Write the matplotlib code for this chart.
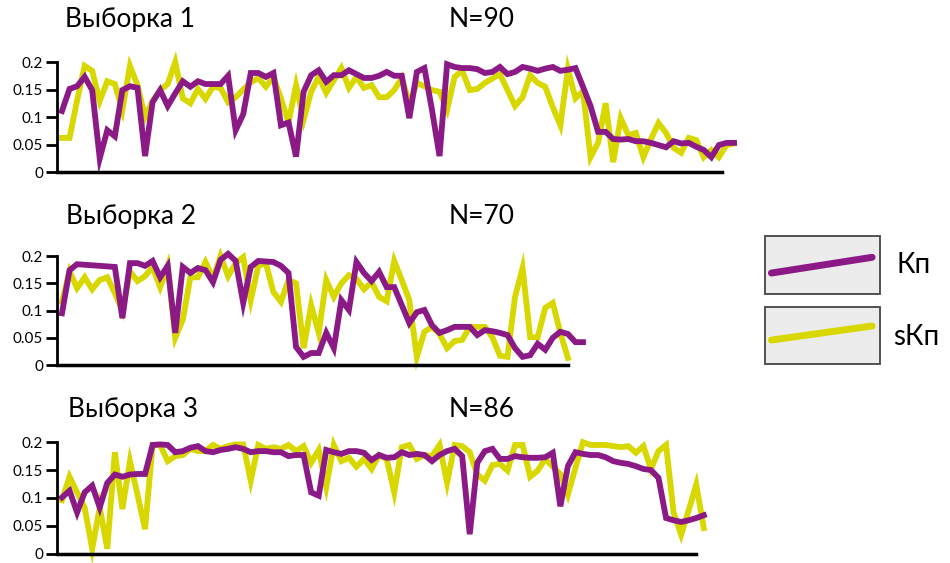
import matplotlib.pyplot as plt
from matplotlib.lines import Line2D
from matplotlib.patches import Rectangle
import numpy as np

# Sample 1 (N=90)
kp_1 = [0.111, 0.151, 0.156, 0.173, 0.149, 0.025, 0.076, 0.065, 0.149, 0.156,
        0.153, 0.029, 0.127, 0.149, 0.120, 0.143, 0.165, 0.155, 0.165, 0.160,
        0.160, 0.160, 0.175, 0.076, 0.105, 0.180, 0.180, 0.173, 0.180, 0.085,
        0.090, 0.028, 0.146, 0.176, 0.185, 0.164, 0.176, 0.176, 0.185, 0.178,
        0.171, 0.171, 0.175, 0.182, 0.175, 0.175, 0.098, 0.182, 0.189, 0.113,
        0.029, 0.196, 0.191, 0.189, 0.189, 0.187, 0.180, 0.182, 0.191, 0.178,
        0.182, 0.191, 0.188, 0.184, 0.188, 0.191, 0.184, 0.186, 0.189, 0.155,
        0.120, 0.073, 0.073, 0.060, 0.059, 0.060, 0.056, 0.056, 0.053, 0.049,
        0.045, 0.056, 0.052, 0.053, 0.046, 0.040, 0.027, 0.049, 0.053, 0.053]
skp_1 = [0.062, 0.062, 0.130, 0.193, 0.184, 0.129, 0.165, 0.160, 0.113, 0.193,
         0.158, 0.100, 0.129, 0.149, 0.160, 0.200, 0.134, 0.125, 0.151, 0.133,
         0.155, 0.153, 0.127, 0.136, 0.150, 0.163, 0.171, 0.155, 0.173, 0.134,
         0.090, 0.158, 0.095, 0.146, 0.173, 0.144, 0.167, 0.189, 0.153, 0.173,
         0.153, 0.158, 0.136, 0.136, 0.149, 0.171, 0.125, 0.162, 0.156, 0.149,
         0.146, 0.113, 0.173, 0.184, 0.149, 0.151, 0.162, 0.170, 0.178, 0.149,
         0.120, 0.136, 0.176, 0.162, 0.155, 0.118, 0.085, 0.187, 0.134, 0.147,
         0.027, 0.053, 0.125, 0.018, 0.098, 0.067, 0.071, 0.027, 0.060, 0.089,
         0.071, 0.044, 0.035, 0.062, 0.058, 0.027, 0.040, 0.027, 0.049, 0.052]

# Sample 2 (N=70)
kp_2 = [0.095, 0.174, 0.185, 0.184, 0.183, 0.182, 0.181, 0.180, 0.086, 0.187,
        0.187, 0.182, 0.191, 0.161, 0.182, 0.059, 0.180, 0.169, 0.178, 0.174,
        0.152, 0.193, 0.204, 0.191, 0.114, 0.180, 0.191, 0.190, 0.189, 0.182,
        0.169, 0.033, 0.015, 0.022, 0.022, 0.059, 0.031, 0.119, 0.101, 0.189,
        0.169, 0.154, 0.171, 0.143, 0.143, 0.110, 0.077, 0.097, 0.101, 0.073,
        0.059, 0.064, 0.070, 0.070, 0.070, 0.055, 0.064, 0.062, 0.059, 0.055,
        0.031, 0.015, 0.018, 0.039, 0.028, 0.050, 0.061, 0.057, 0.042, 0.042]
skp_2 = [0.116, 0.172, 0.141, 0.161, 0.139, 0.156, 0.161, 0.132, 0.099, 0.172,
         0.154, 0.163, 0.180, 0.143, 0.182, 0.050, 0.083, 0.161, 0.161, 0.189,
         0.158, 0.200, 0.163, 0.187, 0.198, 0.119, 0.182, 0.187, 0.134, 0.116,
         0.156, 0.150, 0.031, 0.110, 0.059, 0.156, 0.125, 0.150, 0.165, 0.158,
         0.139, 0.152, 0.125, 0.117, 0.191, 0.156, 0.119, 0.015, 0.061, 0.070,
         0.057, 0.031, 0.044, 0.046, 0.070, 0.070, 0.070, 0.051, 0.017, 0.015,
         0.125, 0.178, 0.051, 0.051, 0.105, 0.114, 0.059, 0.013]

# Sample 3 (N=86)
kp_3 = [0.101, 0.113, 0.074, 0.110, 0.122, 0.083, 0.127, 0.142, 0.138, 0.142,
        0.143, 0.143, 0.195, 0.196, 0.195, 0.182, 0.184, 0.190, 0.193, 0.184,
        0.182, 0.186, 0.188, 0.191, 0.188, 0.182, 0.184, 0.184, 0.182, 0.182,
        0.175, 0.177, 0.177, 0.110, 0.104, 0.186, 0.182, 0.179, 0.184, 0.184,
        0.181, 0.168, 0.177, 0.172, 0.173, 0.182, 0.177, 0.179, 0.177, 0.166,
        0.177, 0.184, 0.188, 0.175, 0.035, 0.163, 0.184, 0.188, 0.170, 0.170,
        0.175, 0.173, 0.172, 0.172, 0.173, 0.181, 0.085, 0.157, 0.182, 0.179,
        0.177, 0.177, 0.173, 0.166, 0.163, 0.161, 0.157, 0.152, 0.150, 0.136,
        0.064, 0.060, 0.057, 0.060, 0.064, 0.069]
skp_3 = [0.096, 0.138, 0.110, 0.083, 0.009, 0.083, 0.009, 0.182, 0.080, 0.166,
         0.106, 0.044, 0.195, 0.195, 0.166, 0.175, 0.177, 0.188, 0.184, 0.184,
         0.195, 0.188, 0.193, 0.196, 0.196, 0.131, 0.195, 0.188, 0.191, 0.188,
         0.195, 0.184, 0.193, 0.163, 0.186, 0.120, 0.195, 0.166, 0.172, 0.156,
         0.170, 0.152, 0.177, 0.170, 0.110, 0.191, 0.195, 0.170, 0.177, 0.175,
         0.195, 0.127, 0.195, 0.193, 0.182, 0.142, 0.131, 0.159, 0.161, 0.149,
         0.195, 0.195, 0.138, 0.149, 0.170, 0.156, 0.143, 0.106, 0.154, 0.200,
         0.195, 0.195, 0.195, 0.193, 0.191, 0.193, 0.181, 0.193, 0.152, 0.184,
         0.195, 0.074, 0.034, 0.078, 0.124, 0.046]

titles = ['Выборка 1', 'Выборка 2', 'Выборка 3']
n_labels = ['N=90', 'N=70', 'N=86']
y_ticks = [0, 0.05, 0.1, 0.15, 0.2]
y_tick_labels = ['0', '0.05', '0.1', '0.15', '0.2']
legend_labels = ['Кп', 'sКп']

PURPLE = '#8c1a86'
YELLOW = '#d8d800'

plt.rcParams['font.family'] = ['Lato', 'DejaVu Sans']

fig = plt.figure(figsize=(9.5, 5.63), dpi=100)

# axes boxes (left, bottom, width, height) in figure fraction
boxes = [(0.06, 0.6925, 0.719, 0.2071),
         (0.06, 0.3497, 0.719, 0.2052),
         (0.06, 0.0145, 0.719, 0.2100)]
x_ends = [87.4, 67.0, 84.0]
title_y = [0.965, 0.615, 0.272]

series = [(kp_1, skp_1), (kp_2, skp_2), (kp_3, skp_3)]

for i, (kp, skp) in enumerate(series):
    ax = fig.add_axes(boxes[i])
    ax.plot(np.arange(len(skp)), skp, color=YELLOW, linewidth=4.2,
            solid_joinstyle='miter', clip_on=False)
    ax.plot(np.arange(len(kp)), kp, color=PURPLE, linewidth=4.2,
            solid_joinstyle='miter', clip_on=False)
    ax.set_xlim(-0.66, 89.8)
    ax.set_ylim(-0.002, 0.21)
    ax.set_yticks(y_ticks)
    ax.set_yticklabels(y_tick_labels, fontsize=11)
    ax.set_xticks([])
    for side in ['top', 'right']:
        ax.spines[side].set_visible(False)
    ax.spines['left'].set_linewidth(2)
    ax.spines['bottom'].set_linewidth(2.5)
    ax.spines['left'].set_bounds(0, 0.2)
    ax.spines['bottom'].set_bounds(-0.66, x_ends[i])
    ax.spines['bottom'].set_position(('data', 0))
    ax.tick_params(axis='y', length=8, width=2, pad=2)
    ax.patch.set_visible(False)

    fig.text(0.068 + 0.002 * i, title_y[i], titles[i], fontsize=19, va='center', ha='left')
    fig.text(0.472, title_y[i], n_labels[i], fontsize=19, va='center', ha='left')

# Legend boxes
leg = [(0.805, 0.477, 0.121, 0.103, PURPLE, 0.515, 0.543, legend_labels[0], 0.944, 0.530),
       (0.805, 0.353, 0.121, 0.101, YELLOW, 0.396, 0.421, legend_labels[1], 0.940, 0.402)]
for (x0, y0, w, h, c, ly0, ly1, lab, tx, ty) in leg:
    fig.add_artist(Rectangle((x0, y0), w, h, transform=fig.transFigure,
                             facecolor='#ececec', edgecolor='#444444', linewidth=1.3))
    fig.add_artist(Line2D([x0 + 0.007, x0 + w - 0.008], [ly0, ly1], transform=fig.transFigure,
                          color=c, linewidth=5, solid_capstyle='round'))
    fig.text(tx, ty, lab, fontsize=20, va='center', ha='left')

fig.savefig('out.png', dpi=100)
